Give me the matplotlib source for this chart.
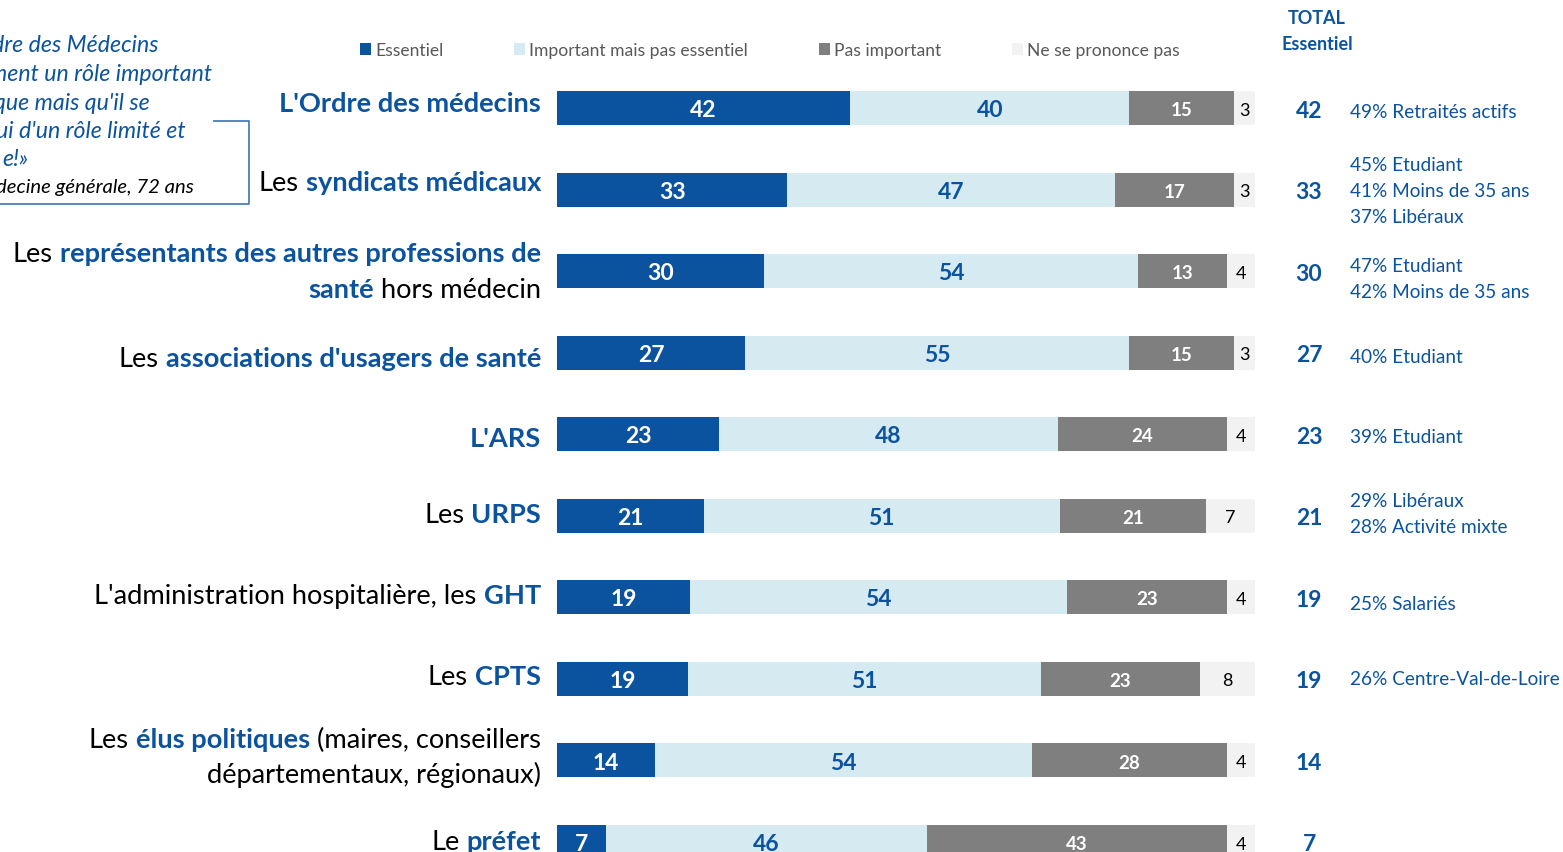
import matplotlib
matplotlib.use("Agg")
import matplotlib.pyplot as plt
from matplotlib.lines import Line2D
import numpy as np

# ---------------- data ----------------
series_names = ["Essentiel", "Important mais pas essentiel", "Pas important", "Ne se prononce pas"]
essentiel = [42, 33, 30, 27, 23, 21, 19, 19, 14, 7]
important = [40, 47, 54, 55, 48, 51, 54, 51, 54, 46]
pas_important = [15, 17, 13, 15, 24, 21, 23, 23, 28, 43]
nsp = [3, 3, 4, 3, 4, 7, 4, 8, 4, 4]
totals = [42, 33, 30, 27, 23, 21, 19, 19, 14, 7]

# category labels: list of lines, each line = list of (text, highlighted)
categories = [
    [[("L'Ordre des médecins", True)]],
    [[("Les", False), ("syndicats médicaux", True)]],
    [[("Les", False), ("représentants des autres professions de", True)],
     [("santé", True), ("hors médecin", False)]],
    [[("Les", False), ("associations d'usagers de santé", True)]],
    [[("L'ARS", True)]],
    [[("Les", False), ("URPS", True)]],
    [[("L'administration hospitalière, les", False), ("GHT", True)]],
    [[("Les", False), ("CPTS", True)]],
    [[("Les", False), ("élus politiques", True), ("(maires, conseillers", False)],
     [("départementaux, régionaux)", False)]],
    [[("Le", False), ("préfet", True)]],
]

subgroups = [
    ["49% Retraités actifs"],
    ["45% Etudiant", "41% Moins de 35 ans", "37% Libéraux"],
    ["47% Etudiant", "42% Moins de 35 ans"],
    ["40% Etudiant"],
    ["39% Etudiant"],
    ["29% Libéraux", "28% Activité mixte"],
    ["25% Salariés"],
    ["26% Centre-Val-de-Loire"],
    [],
    [],
]

quote_lines = ["dre des Médecins", "ment un rôle important", "que mais qu'il se",
               "ui d'un rôle limité et", "e!»"]
quote_author = "decine générale, 72 ans"

# ---------------- layout / style ----------------
W, H = 1563, 853
DARK = "#0b539e"
LIGHT = "#d6eaf2"
GREY = "#7f7f7f"
PALE = "#f2f2f2"
plt.rcParams["font.family"] = ["Lato", "DejaVu Sans"]

# per-row pixel offsets of label baselines relative to bar centre
label_base_dy = [[3], [0], [-10, 26], [13], [12], [6], [6], [5], [-13, 22], [7]]
# per-row pixel offset of first subgroup line centre
sub_dy = [1, -27, -8, 2, 0, -17, 4, -2, 0, 0]

fig = plt.figure(figsize=(W / 100, H / 100), dpi=100)
renderer = fig.canvas.get_renderer()

def fx(px):
    return px / W

def fy(py):
    return 1 - py / H

row_h = 81.55
c0 = 109
ax = fig.add_axes([fx(557), 0, 698 / W, 1])
ax.set_xlim(0, 100)
ax.set_ylim((H - c0) / row_h, -c0 / row_h)
ax.axis("off")

data = np.array([essentiel, important, pas_important, nsp], dtype=float)
norm = data / data.sum(axis=0) * 100
y = np.arange(len(essentiel))
colors = [DARK, LIGHT, GREY, PALE]
lab_style = [("white", 16.5, "bold"), (DARK, 16.5, "bold"),
             ("white", 13.5, "bold"), ("black", 13, "normal")]
left = np.zeros(len(y))
bars = []
for k in range(4):
    b = ax.barh(y, norm[k], left=left, height=34 / row_h, color=colors[k],
                label=series_names[k], edgecolor="none")
    bars.append(b)
    col, fs, fw = lab_style[k]
    for i in range(len(y)):
        xc = left[i] + norm[k][i] / 2
        ax.text(xc, y[i] + 0.02, str(int(data[k][i])), ha="center", va="center",
                color=col, fontsize=fs, fontweight=fw)
    left = left + norm[k]

# legend
leg = fig.legend(handles=bars, labels=series_names, loc="center left",
                 bbox_to_anchor=(fx(360), fy(51)), ncol=4, frameon=False,
                 fontsize=12.6, handlelength=0.63, handleheight=0.63,
                 handletextpad=0.23, columnspacing=4.05, borderpad=0, borderaxespad=0)
for t in leg.get_texts():
    t.set_color("#595959")

# category labels (mixed style), right aligned at x=541
LABEL_SIZE = 19.6
tmp = fig.text(0, 0, "a a", fontsize=LABEL_SIZE)
w1 = tmp.get_window_extent(renderer).width
tmp.set_text("aa")
w2 = tmp.get_window_extent(renderer).width
tmp.remove()
SPACE = w1 - w2

def rich_right(xr, ybase, segs):
    cur = xr
    for txt, hl in reversed(segs):
        t = fig.text(fx(cur), fy(ybase), txt, ha="right", va="baseline",
                     fontsize=LABEL_SIZE, fontweight="bold" if hl else "normal",
                     color=DARK if hl else "black")
        cur = t.get_window_extent(renderer).x0 - SPACE

for i, lines in enumerate(categories):
    c = c0 + row_h * i
    for segs, d in zip(lines, label_base_dy[i]):
        rich_right(541, c + d, segs)

# totals column
fig.text(fx(1317), fy(18), "TOTAL", ha="center", va="center", color=DARK,
         fontsize=13, fontweight="bold")
fig.text(fx(1317), fy(44), "Essentiel", ha="center", va="center", color=DARK,
         fontsize=13, fontweight="bold")
for i, tv in enumerate(totals):
    c = c0 + row_h * i
    fig.text(fx(1309), fy(c + 2), str(tv), ha="center", va="center", color=DARK,
             fontsize=16.5, fontweight="bold")
    for j, s in enumerate(subgroups[i]):
        yy = c + sub_dy[i] + 26 * j + 2
        fig.text(fx(1350), fy(yy), s, ha="left", va="center", color=DARK,
                 fontsize=13.7)

# quote box (cropped at left edge) - anchored on visible right ends
quote_ends = [158, 212, 150, 186, 28]
for j, s in enumerate(quote_lines):
    fig.text(fx(quote_ends[j]), fy(46 + 28.5 * j), s, ha="right", va="center",
             color=DARK, fontsize=16.7, fontstyle="italic")
fig.text(fx(194), fy(188), quote_author, ha="right", va="center", color="black",
         fontsize=14.6, fontstyle="italic")
fig.add_artist(Line2D([fx(214), fx(249), fx(249), fx(0)],
                      [fy(122), fy(122), fy(205), fy(205)],
                      transform=fig.transFigure, color="#4a7ebb", lw=1.3))

fig.savefig("out.png", dpi=100)
